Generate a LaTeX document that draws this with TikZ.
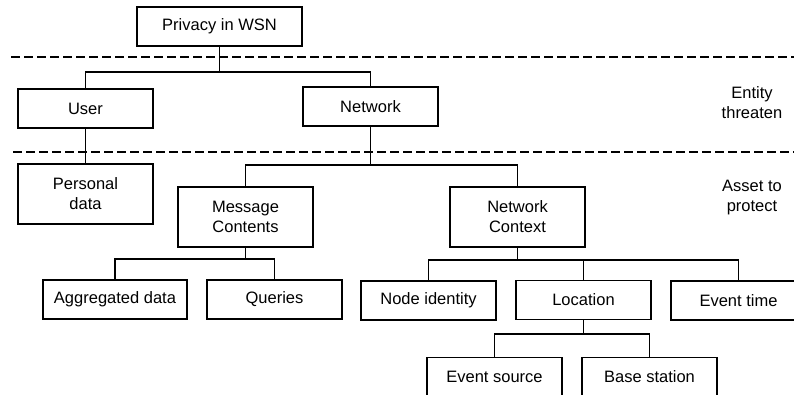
\documentclass[tikz,border=0pt]{standalone}
\usepackage{fontspec}
\setmainfont{Liberation Sans}
\begin{document}
\begin{tikzpicture}[x=1pt,y=1pt,
  box/.style={draw,line width=1.3pt,minimum width=135pt,minimum height=39pt,inner sep=2pt,align=center,font=\fontsize{16.5}{20}\selectfont},
  tall/.style={minimum height=60pt},
  conn/.style={line width=1.3pt},
  sep/.style={line width=1.3pt,dash pattern=on 8.5pt off 4.5pt},
  lbl/.style={align=center,font=\fontsize{16.5}{20}\selectfont}]
\clip (0,0) rectangle (794,-394);
\fill[white] (0,0) rectangle (794,-394);
% nodes
\node[box,minimum width=165pt] (priv) at (219.5,-26.5) {Privacy in WSN};
\node[box] (user) at (85.5,-108.5) {User};
\node[box] (net) at (370.5,-106.5) {Network};
\node[box,tall] (pers) at (85.5,-194) {Personal\\data};
\node[box,tall] (mc) at (245.5,-217) {Message\\Contents};
\node[box,tall] (nc) at (517.5,-217) {Network\\Context};
\node[box,minimum width=144pt] (agg) at (115,-299.5) {Aggregated data};
\node[box] (que) at (274.5,-299.5) {Queries};
\node[box] (nid) at (428.5,-300.5) {Node identity};
\node[box] (loc) at (583.5,-300) {Location};
\node[box] (evt) at (738.5,-300.5) {Event time};
\node[box] (evs) at (494.5,-377) {Event source};
\node[box] (bst) at (649.5,-377) {Base station};
% labels
\node[lbl] (ent) at (752,-103) {Entity\\threaten};
\node[lbl] (ast) at (752,-198) {Asset to\\protect};
% separators
\coordinate (d1a) at (11,-57);
\coordinate (d1b) at (800,-57);
\coordinate (d2a) at (13,-152);
\coordinate (d2b) at (800,-152);
\draw[sep] (d1a) -- (d1b);
\draw[sep] (d2a) -- (d2b);
% bus points
\coordinate (b1) at (219.5,-72);
\coordinate (b2) at (370.5,-165);
\coordinate (b3) at (245.5,-259);
\coordinate (b4) at (517.5,-260);
\coordinate (b5) at (583.5,-334);
% connectors
\draw[conn] (priv.south) -- (b1);
\draw[conn] (user.north) |- (b1) -| (net.north);
\draw[conn] (user.south) -- (pers.north);
\draw[conn] (net.south) -- (b2);
\draw[conn] (mc.north) |- (b2) -| (nc.north);
\draw[conn] (mc.south) -- (b3);
\draw[conn] (agg.north) |- (b3) -| (que.north);
\draw[conn] (nc.south) -- (b4);
\draw[conn] (nid.north) |- (b4) -| (evt.north);
\draw[conn] (loc.north) -- (loc.north |- b4);
\draw[conn] (loc.south) -- (b5);
\draw[conn] (evs.north) |- (b5) -| (bst.north);
\end{tikzpicture}
\end{document}
